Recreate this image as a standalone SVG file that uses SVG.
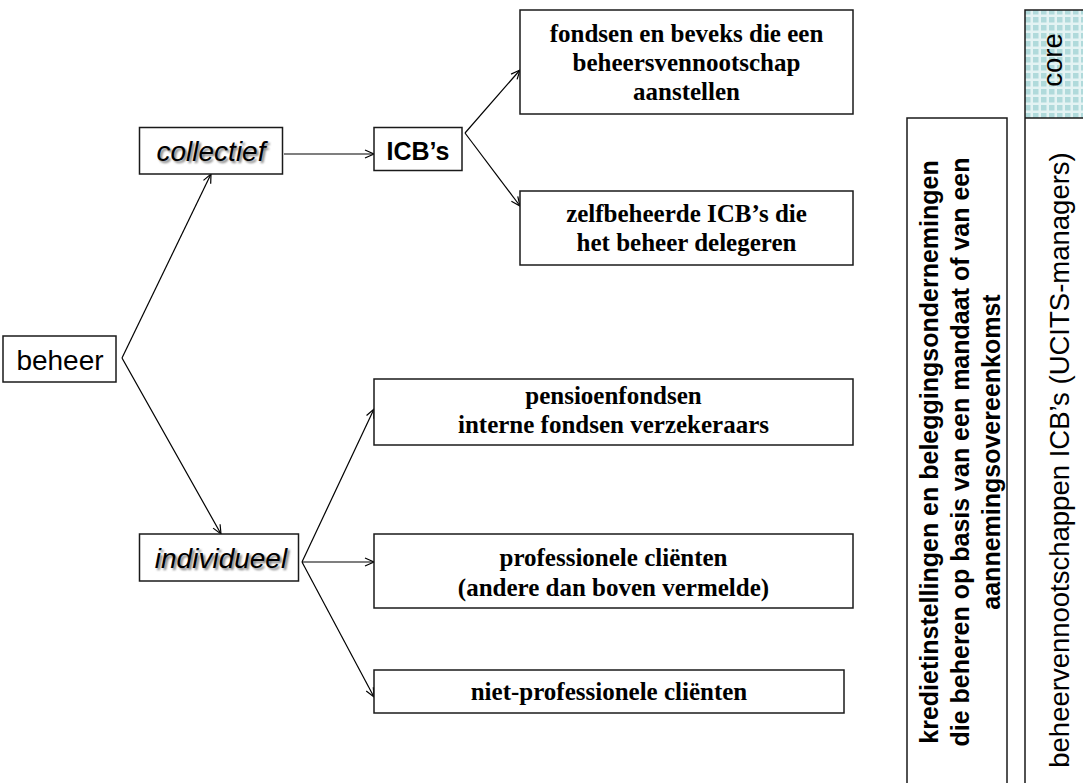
<svg xmlns="http://www.w3.org/2000/svg" width="1083" height="783" viewBox="0 0 1083 783">
<style>
.box{fill:#fff;stroke:#1a1a1a;stroke-width:1.5}
.conn{stroke:#000;stroke-width:1.2;fill:none}
.serif{font-family:"Liberation Serif","Times New Roman",serif;font-weight:bold;font-size:25px;fill:#000;text-anchor:middle}
.sans{font-family:"Liberation Sans",Arial,sans-serif;fill:#000;text-anchor:middle}
.ital{font-style:italic;font-size:28px}
.shadow{fill:#7a7a7a;filter:url(#blur)}
.vb{font-family:"Liberation Sans",Arial,sans-serif;font-weight:bold;font-size:25px;fill:#000;text-anchor:middle}
.vr{font-family:"Liberation Sans",Arial,sans-serif;font-size:27.5px;fill:#000;text-anchor:middle}
.line{stroke:#1a1a1a;stroke-width:1.5;fill:none}
</style>
<defs>
<marker id="arr" markerUnits="userSpaceOnUse" markerWidth="14" markerHeight="14" refX="10" refY="5" orient="auto" viewBox="0 0 14 10">
<path d="M1,1 L10,5 L1,9" fill="none" stroke="#000" stroke-width="1.2"/>
</marker>
<filter id="blur" x="-10%" y="-30%" width="120%" height="160%">
<feGaussianBlur stdDeviation="1"/>
</filter>
<pattern id="chk" width="8" height="8" patternUnits="userSpaceOnUse">
<rect width="8" height="8" fill="#e4f3f3"/>
<rect x="1" y="1" width="5.5" height="5.5" fill="#b0dadb"/>
</pattern>
</defs>
<rect width="1083" height="783" fill="#fff"/>

<g id="connectors">
<line class="conn" x1="122" y1="358" x2="211" y2="174" marker-end="url(#arr)"/>
<line class="conn" x1="122" y1="358" x2="221" y2="534" marker-end="url(#arr)"/>
<line class="conn" x1="284" y1="154" x2="374" y2="154" marker-end="url(#arr)"/>
<line class="conn" x1="465" y1="133" x2="520" y2="70" marker-end="url(#arr)"/>
<line class="conn" x1="465" y1="133" x2="520" y2="206" marker-end="url(#arr)"/>
<line class="conn" x1="302" y1="562" x2="374" y2="409" marker-end="url(#arr)"/>
<line class="conn" x1="302" y1="562" x2="374" y2="562" marker-end="url(#arr)"/>
<line class="conn" x1="302" y1="562" x2="374" y2="697" marker-end="url(#arr)"/>
</g>

<g id="beheer">
<rect class="box" x="3" y="336" width="113" height="46"/>
<text class="sans" x="60" y="370" font-size="28">beheer</text>
</g>

<g id="collectief">
<rect class="box" x="139.5" y="127.5" width="143" height="46.5"/>
<text class="sans ital shadow" x="213" y="163">collectief</text>
<text class="sans ital" x="211" y="161">collectief</text>
</g>

<g id="individueel">
<rect class="box" x="139.5" y="534" width="159" height="47"/>
<text class="sans ital shadow" x="223" y="570">individueel</text>
<text class="sans ital" x="221" y="568">individueel</text>
</g>

<g id="icbs">
<rect class="box" x="374" y="127.5" width="88" height="43"/>
<text class="sans" x="418" y="160" font-size="25" font-weight="bold">ICB’s</text>
</g>

<g id="fondsen">
<rect class="box" x="520" y="10" width="333" height="104"/>
<text class="serif"><tspan x="686.5" y="42">fondsen en beveks die een</tspan><tspan x="686.5" y="71">beheersvennootschap</tspan><tspan x="686.5" y="100">aanstellen</tspan></text>
</g>

<g id="zelfbeheerde">
<rect class="box" x="520" y="191" width="333" height="74"/>
<text class="serif"><tspan x="686.5" y="222">zelfbeheerde ICB’s die</tspan><tspan x="686.5" y="251">het beheer delegeren</tspan></text>
</g>

<g id="pensioen">
<rect class="box" x="374" y="379" width="479" height="66"/>
<text class="serif"><tspan x="613.5" y="404">pensioenfondsen</tspan><tspan x="613.5" y="433">interne fondsen verzekeraars</tspan></text>
</g>

<g id="professionele">
<rect class="box" x="374" y="534" width="479" height="74"/>
<text class="serif"><tspan x="613.5" y="566">professionele cliënten</tspan><tspan x="613.5" y="596">(andere dan boven vermelde)</tspan></text>
</g>

<g id="nietprofessionele">
<rect class="box" x="374" y="670" width="470" height="43"/>
<text class="serif" x="609" y="700">niet-professionele cliënten</text>
</g>

<g id="kredietinstellingen">
<rect class="box" x="907" y="118" width="100" height="700"/>
<text class="vb" transform="translate(0,452) rotate(-90)"><tspan x="0" y="938">kredietinstellingen en beleggingsondernemingen</tspan><tspan x="0" y="969">die beheren op basis van een mandaat of van een</tspan><tspan x="0" y="1000">aannemingsovereenkomst</tspan></text>
</g>

<g id="core">
<rect x="1025" y="10" width="70" height="108" fill="url(#chk)"/>
<path class="line" d="M1025,790 V10 H1090 M1025,118 H1090"/>
<text class="vr" font-size="28" transform="translate(0,60) rotate(-90)" x="0" y="1062">core</text>
</g>

<g id="beheervennootschappen">
<text class="vr" transform="translate(0,460) rotate(-90)" x="0" y="1069">beheervennootschappen ICB’s (UCITS-managers)</text>
</g>
</svg>
